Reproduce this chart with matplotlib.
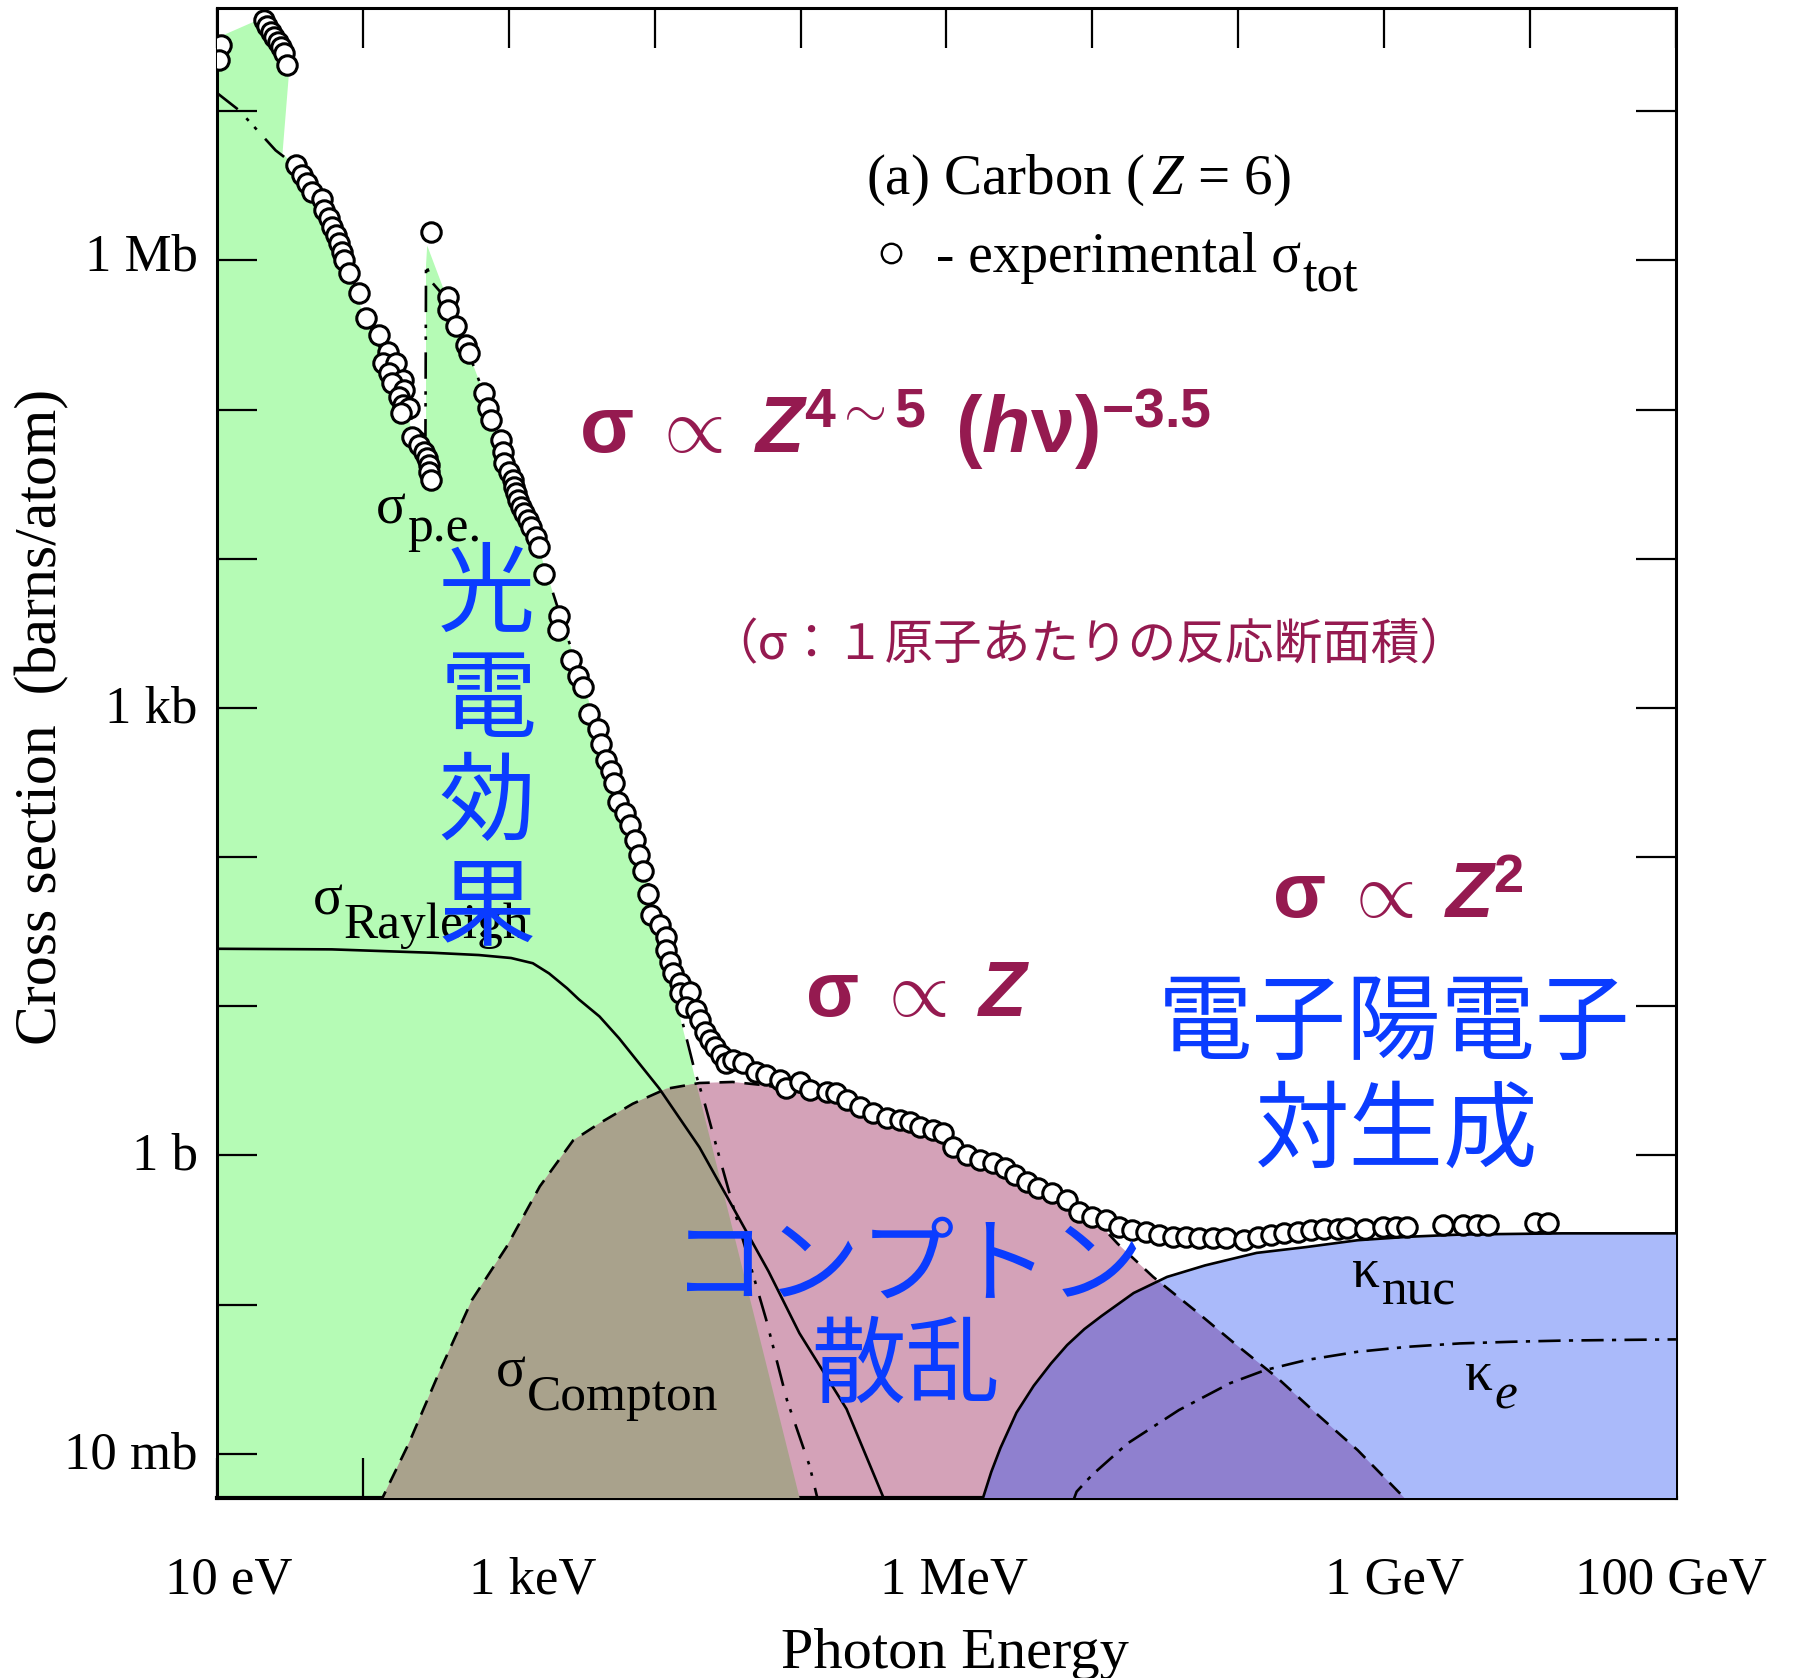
import numpy as np
import matplotlib
matplotlib.use("Agg")
import matplotlib.pyplot as plt
from matplotlib.patches import Polygon
from matplotlib.ticker import NullLocator
from matplotlib.transforms import ScaledTranslation

plt.rcParams['font.family'] = ['Liberation Serif', 'DejaVu Serif']
plt.rcParams['mathtext.fontset'] = 'custom'
plt.rcParams['mathtext.rm'] = 'Liberation Serif'
plt.rcParams['mathtext.it'] = 'Liberation Serif:italic'
plt.rcParams['mathtext.bf'] = 'Liberation Sans:bold'
plt.rcParams['mathtext.bfit'] = 'Liberation Sans:italic:bold'
plt.rcParams['mathtext.sf'] = 'Liberation Sans'
plt.rcParams['lines.scale_dashes'] = False

# ---------------- data: log10(photon energy / eV), log10(cross section / barn) -------------
# experimental total cross section (open circles)
exp_logE = [1.028, 1.016,
            1.323, 1.346, 1.370, 1.394, 1.417, 1.441, 1.457, 1.480,
            1.540, 1.586, 1.620, 1.654, 1.723, 1.735, 1.769, 1.791, 1.815, 1.837,
            1.860, 1.872, 1.906, 1.975, 2.020, 2.112, 2.169, 2.135, 2.227, 2.180,
            2.272, 2.203, 2.283, 2.249, 2.272, 2.318, 2.261, 2.340, 2.387, 2.420,
            2.443, 2.455, 2.455, 2.467,
            2.467,
            2.581, 2.581, 2.638, 2.706, 2.730, 2.832, 2.855, 2.879, 2.947, 2.958,
            2.970, 3.004, 3.027, 3.039, 3.050, 3.061, 3.084, 3.107, 3.130, 3.153,
            3.187, 3.210, 3.244, 3.347, 3.335, 3.428, 3.472, 3.507, 3.553, 3.610,
            3.634, 3.668, 3.702, 3.724, 3.747, 3.794, 3.828, 3.862, 3.896, 3.919,
            3.954, 3.976, 4.034, 4.080, 4.080, 4.102, 4.125, 4.171, 4.171, 4.239,
            4.217, 4.285, 4.308, 4.343, 4.376, 4.411, 4.457, 4.491, 4.537, 4.606,
            4.697, 4.766, 4.857, 4.903, 4.994, 5.063, 5.178, 5.246, 5.315, 5.406,
            5.498, 5.590, 5.681, 5.750, 5.818, 5.909, 5.978, 6.046, 6.139, 6.230,
            6.321, 6.402, 6.470, 6.550, 6.630, 6.722, 6.824, 6.906, 6.998, 7.091,
            7.183, 7.274, 7.366, 7.457, 7.550, 7.642, 7.734, 7.825, 7.917, 8.040,
            8.132, 8.224, 8.316, 8.407, 8.499, 8.591, 8.683, 8.744, 8.867, 8.990,
            9.081, 9.158, 9.403, 9.541, 9.633, 9.709, 10.031, 10.123]
exp_logS = [7.446, 7.346,
            7.615, 7.569, 7.531, 7.500, 7.462, 7.431, 7.392, 7.308,
            6.640, 6.573, 6.517, 6.461, 6.410, 6.338, 6.282, 6.226, 6.171, 6.115,
            6.058, 6.003, 5.914, 5.780, 5.612, 5.500, 5.388, 5.310, 5.310, 5.243,
            5.197, 5.176, 5.132, 5.086, 5.031, 5.008, 4.975, 4.818, 4.762, 4.718,
            4.673, 4.628, 4.584, 4.528,
            6.193,
            5.757, 5.668, 5.560, 5.433, 5.377, 5.109, 5.008, 4.930, 4.796, 4.718,
            4.640, 4.584, 4.528, 4.483, 4.438, 4.394, 4.349, 4.305, 4.260, 4.215,
            4.148, 4.081, 3.897, 3.615, 3.525, 3.320, 3.217, 3.140, 2.960, 2.858,
            2.755, 2.652, 2.575, 2.498, 2.370, 2.293, 2.216, 2.114, 2.011, 1.908,
            1.755, 1.611, 1.544, 1.466, 1.377, 1.298, 1.221, 1.154, 1.086, 1.097,
            0.997, 0.975, 0.907, 0.829, 0.773, 0.728, 0.673, 0.617, 0.639, 0.617,
            0.561, 0.538, 0.505, 0.449, 0.494, 0.438, 0.427, 0.416, 0.372, 0.326,
            0.282, 0.248, 0.237, 0.223, 0.192, 0.170, 0.148, 0.058, 0.002, -0.032,
            -0.054, -0.087, -0.132, -0.177, -0.222, -0.255, -0.300, -0.378, -0.412, -0.434,
            -0.478, -0.501, -0.512, -0.534, -0.545, -0.549, -0.556, -0.556, -0.556, -0.568,
            -0.549, -0.534, -0.523, -0.512, -0.501, -0.496, -0.496, -0.489, -0.496, -0.482,
            -0.482, -0.478, -0.467, -0.467, -0.467, -0.467, -0.452, -0.452]

# photoelectric (dash-dot, with K edge)
pe_logE = [1.000, 1.150, 1.244, 1.402, 1.535, 1.654, 1.787, 1.906, 2.024, 2.142,
           2.260, 2.354, 2.429, 2.433, 2.480, 2.583, 2.654, 2.732, 2.850, 2.969,
           3.087, 3.205, 3.362, 3.520, 3.677, 3.835, 3.992, 4.110, 4.189, 4.268,
           4.346, 4.425, 4.535, 4.764, 4.906, 5.063, 5.142]
pe_logS = [7.123, 7.008, 6.908, 6.738, 6.638, 6.462, 6.223, 5.938, 5.615, 5.362,
           5.131, 4.885, 4.823, 5.969, 5.846, 5.731, 5.554, 5.362, 5.054, 4.708,
           4.362, 4.069, 3.592, 3.131, 2.669, 2.208, 1.708, 1.285, 0.900, 0.592,
           0.338, 0.054, -0.331, -1.100, -1.638, -2.085, -2.408]

# Rayleigh (solid)
ray_logE = [1.000, 1.787, 2.480, 2.795, 3.016, 3.165, 3.276, 3.400, 3.480, 3.622,
            3.756, 4.031, 4.307, 4.535, 4.780, 4.992, 5.315, 5.567, 5.614]
ray_logS = [1.385, 1.381, 1.358, 1.343, 1.323, 1.288, 1.220, 1.120, 1.046, 0.931,
            0.785, 0.449, 0.054, -0.346, -0.777, -1.192, -1.700, -2.292, -2.446]

# Compton (dashed)
comp_logE = [2.110, 2.315, 2.520, 2.748, 2.984, 3.213, 3.441, 3.622, 3.850, 4.079,
             4.307, 4.535, 4.764, 4.992, 5.220, 5.449, 5.677, 5.906, 6.142, 6.370,
             6.598, 6.748, 6.866, 7.000, 7.173, 7.417, 7.701, 7.976, 8.260, 8.535,
             8.819, 9.134, 9.189]
comp_logS = [-2.346, -1.931, -1.462, -0.969, -0.615, -0.208, 0.100, 0.215, 0.346, 0.446,
             0.485, 0.492, 0.469, 0.423, 0.377, 0.292, 0.208, 0.115, 0.023, -0.069,
             -0.177, -0.254, -0.323, -0.408, -0.592, -0.815, -1.038, -1.262, -1.485, -1.731,
             -1.977, -2.292, -2.354]

# pair production in nuclear field (solid)
knuc_logE = [6.236, 6.252, 6.307, 6.370, 6.480, 6.598, 6.717, 6.827, 6.945, 7.063,
             7.283, 7.512, 7.772, 8.126, 8.465, 8.819, 9.165, 9.520, 9.866, 10.220, 11.000]
knuc_logS = [-2.346, -2.292, -2.123, -1.962, -1.725, -1.545, -1.395, -1.272, -1.165, -1.077,
             -0.923, -0.815, -0.738, -0.654, -0.615, -0.569, -0.546, -0.531, -0.527, -0.523, -0.523]

# pair production in electron field (dash-dot)
ke_logE = [6.858, 6.892, 6.997, 7.242, 7.593, 7.943, 8.187, 8.468, 8.817, 9.169,
           9.518, 9.869, 10.219, 10.569, 11.000]
ke_logS = [-2.346, -2.255, -2.144, -1.931, -1.708, -1.528, -1.439, -1.372, -1.317, -1.283,
           -1.261, -1.250, -1.242, -1.238, -1.234]

# outline of the shaded photoelectric region
green_logE = [1.000, 1.000, 1.252, 1.331, 1.496, 1.449, 1.535, 1.654, 1.787, 1.906,
              2.008, 2.110, 2.220, 2.276, 2.339, 2.433, 2.433, 2.441, 2.583, 2.654,
              2.732, 2.850, 2.969, 3.087, 3.205, 3.362, 3.520, 3.677, 3.835, 3.992,
              4.173, 4.283, 5.045]
green_logS = [-2.5, 7.492, 7.600, 7.638, 7.285, 6.715, 6.638, 6.462, 6.223, 5.938,
              5.615, 5.500, 5.246, 5.092, 4.838, 4.823, 5.969, 6.100, 5.731, 5.554,
              5.362, 5.054, 4.708, 4.362, 4.069, 3.592, 3.131, 2.669, 2.208, 1.708,
              0.931, 0.492, -2.5]

xtick_exp = list(range(1, 12))
xtick_labels = ['10 eV', '', '1 keV', '', '', '1 MeV', '', '', '1 GeV', '', '100 GeV']
xtick_shift_in = [0.115, 0, 0.24, 0, 0, 0.08, 0, 0, 0.10, 0, -0.046]
ytick_exp = list(range(-2, 8))
ytick_labels = ['10 mb', '', '1 b', '', '', '1 kb', '', '', '1 Mb', '']
ytick_shift_in = [0.04, 0, 0.04, 0, 0, 0.04, 0, 0, 0.08, 0]

C_GREEN = '#b5fbb5'
C_PINK = '#d4a2b8'
C_BROWN = '#a9a28c'
C_BLUE = '#aabafa'
C_PURPLE = '#8f80cf'
MAGENTA = '#951a50'
BLUE_TXT = '#0a3cff'
CJK = ['Noto Sans CJK JP', 'DejaVu Sans']


def L(v):
    return 10.0 ** np.asarray(v, dtype=float)


fig = plt.figure(figsize=(17.99, 16.78), dpi=100)
ax = fig.add_axes([0.1206, 0.1073, 0.8110, 0.8878])
ax.set_xscale('log')
ax.set_yscale('log')
ax.set_xlim(1e1, 1e11)
ax.set_ylim(10 ** -2.297, 10 ** 7.691)

# ---- shaded regions ----
green = Polygon(np.column_stack([L(green_logE), L(green_logS)]), closed=True,
                fc=C_GREEN, ec='none', zorder=1)
ax.add_patch(green)

cx = list(comp_logE) + [comp_logE[-1], comp_logE[0]]
cy = list(comp_logS) + [-3.0, -3.0]
comp_xy = np.column_stack([L(cx), L(cy)])
pink = Polygon(comp_xy, closed=True, fc=C_PINK, ec='none', zorder=2)
ax.add_patch(pink)
brown = Polygon(comp_xy, closed=True, fc=C_BROWN, ec='none', zorder=3)
ax.add_patch(brown)
brown.set_clip_path(green)

kx = list(knuc_logE) + [11.3, 11.3, knuc_logE[0]]
ky = list(knuc_logS) + [knuc_logS[-1], -3.0, -3.0]
k_xy = np.column_stack([L(kx), L(ky)])
blue = Polygon(k_xy, closed=True, fc=C_BLUE, ec='none', zorder=4)
ax.add_patch(blue)
purple = Polygon(k_xy, closed=True, fc=C_PURPLE, ec='none', zorder=4.5)
ax.add_patch(purple)
purple.set_clip_path(pink)

# ---- curves ----
lw = 1.9
ax.plot(L(pe_logE), L(pe_logS), color='k', lw=lw, dashes=[19, 9, 2.5, 6, 2.5, 9], zorder=6)
ax.plot(L(ray_logE), L(ray_logS), color='k', lw=lw, zorder=6)
ax.plot(L(comp_logE), L(comp_logS), color='k', lw=lw, dashes=[11, 7], zorder=6)
ax.plot(L(knuc_logE), L(knuc_logS), color='k', lw=lw, zorder=6)
ax.plot(L(ke_logE), L(ke_logS), color='k', lw=lw, dashes=[16, 6, 3, 6], zorder=6)
hexp, = ax.plot(L(exp_logE), L(exp_logS), ls='none', marker='o', ms=14,
                mfc='white', mec='black', mew=2.2, zorder=8,
                label='- experimental \u03c3')

# ---- axes styling ----
ax.set_xticks(L(xtick_exp))
ax.set_xticklabels(xtick_labels)
ax.set_yticks(L(ytick_exp))
ax.set_yticklabels(ytick_labels)
ax.xaxis.set_minor_locator(NullLocator())
ax.yaxis.set_minor_locator(NullLocator())
ax.tick_params(which='major', direction='in', length=29, width=1.6,
               top=True, right=True, labelsize=38)
ax.tick_params(axis='x', pad=42)
ax.tick_params(axis='y', pad=14)
for sp in ax.spines.values():
    sp.set_linewidth(2.2)
ax.spines['bottom'].set_linewidth(3.0)
for lab, dx in zip(ax.get_xticklabels(), xtick_shift_in):
    lab.set_transform(lab.get_transform() + ScaledTranslation(dx, 0, fig.dpi_scale_trans))
for lab, dy in zip(ax.get_yticklabels(), ytick_shift_in):
    lab.set_transform(lab.get_transform() + ScaledTranslation(0, dy, fig.dpi_scale_trans))

ax.set_xlabel('Photon Energy', fontsize=42)
ax.xaxis.set_label_coords(0.5058, -0.0870)
ax.set_ylabel('Cross section  (barns/atom)', fontsize=43)
ax.yaxis.set_label_coords(-0.101, 0.524)

# ---- legend-like header ----
ax.text(L(5.446), L(6.450), r'(a) Carbon ($\,\mathit{Z}$ = 6)', fontsize=41,
        ha='left', va='baseline', zorder=10)
leg = ax.legend(handles=[hexp], loc='center left', bbox_to_anchor=(0.449, 0.832),
                frameon=False, fontsize=40, handlelength=0.7, handletextpad=0.45,
                borderpad=0, borderaxespad=0, numpoints=1, markerscale=1.0)
leg.set_zorder(9)
for lh in leg.legend_handles:
    lh.set_markeredgewidth(1.7)
ax.annotate('tot', xy=(1, 0), xycoords=leg.get_texts()[0], xytext=(1, -4.3),
            textcoords='offset points', fontsize=38, ha='left', va='baseline', zorder=11)


def sigma_label(x, y, main, sub, drop, size=40, sub_size=37, sub_style='normal'):
    t = ax.text(L(x), L(y), main, fontsize=size, ha='left', va='baseline', zorder=10)
    ax.annotate(sub, xy=(1, 0), xycoords=t, xytext=(1, -drop),
                textcoords='offset points', fontsize=sub_size, ha='left',
                va='baseline', fontstyle=sub_style, zorder=10)


sigma_label(2.089, 4.238, '\u03c3', 'p.e.', 4.3)
sigma_label(1.654, 1.612, '\u03c3', 'Rayleigh', 8.3)
sigma_label(2.912, -1.551, '\u03c3', 'Compton', 8.3)
sigma_label(8.783, -0.881, '\u03ba', 'nuc', 4.3)
sigma_label(9.551, -1.574, '\u03ba', 'e', 4.3, sub_style='italic')

# ---- magenta formulas ----
ax.text(L(3.480), L(4.708),
        r'$\mathbf{\sigma}\ \propto\ \mathbfit{Z}^{\mathbf{4\sim5}}\ \,\mathbf{(}\mathbfit{h}\mathbf{\nu)}^{\mathbf{-3.5}}$',
        fontsize=57, color=MAGENTA, ha='left', va='baseline', zorder=10)
ax.text(L(5.028), L(0.931), r'$\mathbf{\sigma}\ \propto\ \mathbfit{Z}$',
        fontsize=56, color=MAGENTA, ha='left', va='baseline', zorder=10)
ax.text(L(8.228), L(1.592), r'$\mathbf{\sigma}\ \propto\ \mathbfit{Z}^{\mathbf{2}}$',
        fontsize=56, color=MAGENTA, ha='left', va='baseline', zorder=10)
ax.text(L(6.976), L(3.415), '（σ：１原子あたりの反応断面積）', fontsize=35,
        color=MAGENTA, family=CJK, ha='center', va='center', zorder=10)

# ---- blue Japanese labels ----
for ch, xx, yy in [('光', 2.843, 3.746), ('電', 2.858, 3.038),
                   ('効', 2.850, 2.346), ('果', 2.850, 1.646)]:
    ax.text(L(xx), L(yy), ch, fontsize=70, color=BLUE_TXT, family=CJK,
            ha='center', va='center', zorder=10)
for s, xx, yy in [('電子陽電子', 9.071, 0.877), ('対生成', 9.087, 0.154),
                  ('コンプトン', 5.740, -0.754), ('散乱', 5.724, -1.423)]:
    ax.text(L(xx), L(yy), s, fontsize=68, color=BLUE_TXT, family=CJK,
            ha='center', va='center', zorder=10)

fig.savefig('out.png', dpi=100)
